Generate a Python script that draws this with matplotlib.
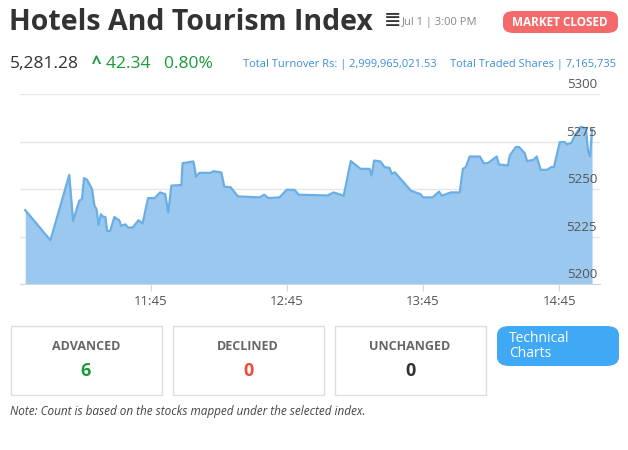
import matplotlib
matplotlib.use("Agg")
import matplotlib.pyplot as plt
from matplotlib.patches import FancyBboxPatch, Rectangle
import numpy as np

plt.rcParams["font.family"] = ["Open Sans", "DejaVu Sans"]

# minutes since midnight, index value
minutes = [649.8, 660.9, 669.2, 670.9, 673.6, 674.8, 675.7, 677.1, 679.2, 680.3, 681.2, 682.1,
           683.1, 684.2, 685.1, 685.9, 687.2, 689.1, 690.4, 691.2, 692.1, 693.9, 695.1, 697.1,
           699.7, 701.5, 703.9, 706.8, 709.2, 711.5, 712.8, 714.2, 718.6, 719.1, 723.9, 725.1,
           726.5, 731.5, 732.7, 736.2, 737.5, 740.3, 743.5, 753.0, 755.1, 756.9, 761.8, 765.0,
           768.5, 770.3, 783.0, 785.6, 790.1, 793.2, 797.5, 801.5, 802.4, 803.5, 806.3, 808.1,
           810.3, 811.2, 812.6, 819.7, 823.9, 825.0, 829.2, 832.1, 833.3, 837.3, 841.2, 842.6,
           843.9, 845.6, 850.1, 851.8, 853.6, 857.5, 858.5, 862.4, 863.3, 865.9, 867.3, 869.8,
           870.9, 873.9, 875.1, 876.9, 879.7, 881.5, 882.7, 885.3, 887.5, 888.5, 890.3, 892.4,
           894.5, 896.8, 897.7, 898.6, 899.5]
values = [5238.9, 5223.0, 5257.4, 5233.2, 5243.8, 5244.7, 5255.7, 5254.8, 5250.0, 5241.2, 5239.4, 5231.1,
          5236.7, 5235.3, 5235.3, 5227.9, 5227.9, 5235.3, 5234.1, 5233.6, 5230.6, 5231.4, 5229.7, 5229.7,
          5233.6, 5231.8, 5245.2, 5245.2, 5248.2, 5247.3, 5237.6, 5251.8, 5252.1, 5263.6, 5264.5, 5256.5,
          5258.5, 5258.5, 5259.4, 5258.7, 5251.2, 5250.9, 5246.1, 5245.6, 5247.0, 5245.2, 5245.6, 5249.6,
          5249.5, 5247.0, 5246.6, 5248.2, 5246.5, 5264.7, 5260.6, 5260.6, 5257.1, 5265.0, 5264.5, 5261.5,
          5261.1, 5258.0, 5258.8, 5249.1, 5247.3, 5245.6, 5245.6, 5248.6, 5246.5, 5248.2, 5248.2, 5260.6,
          5261.5, 5267.1, 5267.1, 5263.6, 5263.6, 5267.1, 5262.9, 5262.4, 5267.7, 5272.1, 5272.1, 5268.9,
          5264.7, 5265.4, 5267.1, 5260.1, 5260.1, 5261.5, 5261.5, 5274.7, 5274.7, 5273.5, 5274.2, 5279.2,
          5282.7, 5281.8, 5270.3, 5267.1, 5281.3]
x_ticks = [705, 765, 825, 885]
x_labels = ["11:45", "12:45", "13:45", "14:45"]
y_ticks = [5200, 5225, 5250, 5275, 5300]

W, H = 628, 450
fig = plt.figure(figsize=(W / 100, H / 100), dpi=100)

def fx(px): return px / W
def fy(py): return 1 - py / H

# chart
ax = fig.add_axes([fx(20), fy(284), fx(600 - 20), (284 - 94) / H])
ax.fill_between(minutes, 5200, values, color="#9bc8ef", lw=0)
ax.plot(minutes, values, color="#6aaee6", lw=1.6)
ax.set_xlim(647.5, 903)
ax.set_ylim(5200, 5300)
for s in ["top", "left", "right"]:
    ax.spines[s].set_visible(False)
ax.spines["bottom"].set_color("#d0d7e0")
ax.set_yticks(y_ticks)
ax.yaxis.grid(True, color="#e6e6e6", lw=1)
ax.set_axisbelow(True)
ax.tick_params(axis="y", length=0, labelleft=False)
ax.set_yticklabels([])
for v in y_ticks:
    ax.text(0.995, v + 1.5, str(v), transform=ax.get_yaxis_transform(), ha="right", va="bottom",
            fontsize=9.5, color="#555555")
ax.set_xticks(x_ticks)
ax.set_xticklabels(x_labels, fontsize=9.5, color="#555555")
ax.tick_params(axis="x", length=5, color="#d0d7e0", pad=3)

# header
fig.text(fx(9), fy(22), "Hotels And Tourism Index", fontsize=20.5, fontweight="bold",
         color="#333333", va="center")
fig.text(fx(384), fy(21), "≣", fontsize=15, color="#333333", va="center")
fig.text(fx(402), fy(22), "Jul 1 | 3:00 PM", fontsize=8, color="#888888", va="center")
fig.patches.append(FancyBboxPatch((fx(503), fy(33)), fx(115), 22 / H,
                                  boxstyle="round,pad=0,rounding_size=0.017",
                                  transform=fig.transFigure, fc="#f46a6a", ec="none"))
fig.text(fx(560), fy(22), "MARKET CLOSED", fontsize=8.5, fontweight="bold", color="white",
         ha="center", va="center")
fig.text(fx(10), fy(64), "5,281.28", fontsize=12.5, color="#333333", va="center")
fig.text(fx(92), fy(64), "^", fontsize=12.5, fontweight="bold", color="#1a9a3a", va="center")
fig.text(fx(106), fy(64), "42.34   0.80%", fontsize=12.5, color="#1a9a3a", va="center")
fig.text(fx(243), fy(64), "Total Turnover Rs: | 2,999,965,021.53", fontsize=8, color="#3d8ed6", va="center")
fig.text(fx(450), fy(64), "Total Traded Shares | 7,165,735", fontsize=8, color="#3d8ed6", va="center")

# stat boxes
boxes = [("ADVANCED", "6", "#1a9a3a"), ("DECLINED", "0", "#f04a3a"), ("UNCHANGED", "0", "#333333")]
for i, (lbl, val, col) in enumerate(boxes):
    x0 = 11 + i * 162
    fig.patches.append(Rectangle((fx(x0), fy(395)), fx(151), 69 / H, transform=fig.transFigure,
                                 fc="white", ec="#dddddd", lw=1))
    fig.text(fx(x0 + 75), fy(347), lbl, fontsize=9, fontweight="bold", color="#666666", ha="center", va="center")
    fig.text(fx(x0 + 75), fy(371), val, fontsize=13, fontweight="bold", color=col, ha="center", va="center")
fig.patches.append(FancyBboxPatch((fx(497), fy(366)), fx(122), 40 / H,
                                  boxstyle="round,pad=0,rounding_size=0.02",
                                  transform=fig.transFigure, fc="#3fa9f5", ec="none"))
fig.text(fx(509), fy(346), "Technical\nCharts", fontsize=10, color="white", va="center", linespacing=0.95)
fig.text(fx(10), fy(411), "Note: Count is based on the stocks mapped under the selected index.",
         fontsize=8.5, style="italic", color="#444444", va="center")

fig.savefig("out.png", dpi=100)
